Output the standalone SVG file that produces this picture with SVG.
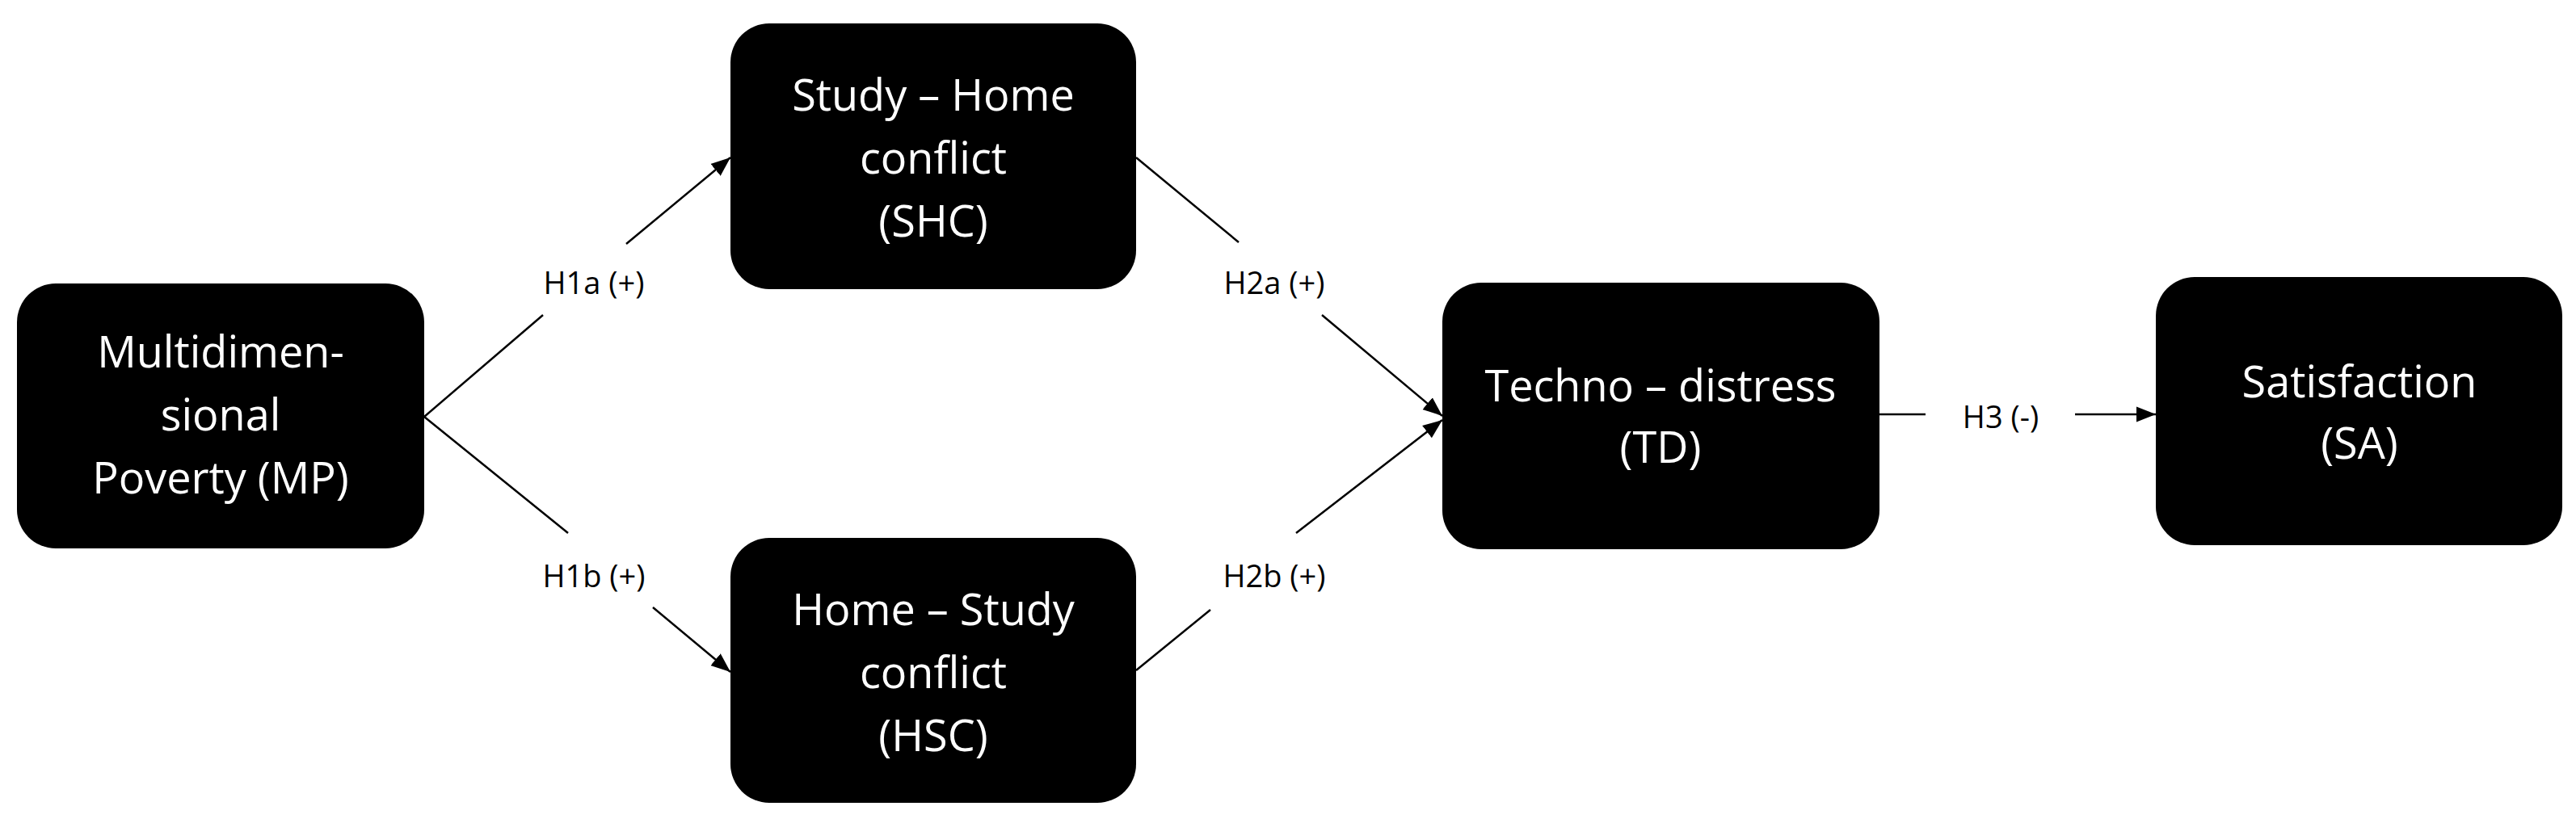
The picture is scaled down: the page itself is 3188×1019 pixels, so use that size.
<svg xmlns="http://www.w3.org/2000/svg" width="3188" height="1019" viewBox="0 0 3188 1019">
<style>
.n{fill:#000}
.t{fill:#fff;font-family:"Open Sans","Liberation Sans",sans-serif;font-size:54px;text-anchor:middle}
.l{fill:#000;font-family:"Open Sans","Liberation Sans",sans-serif;font-size:38px;text-anchor:middle}
.c{stroke:#000;stroke-width:2.5;fill:none}
</style>
<defs><marker id="a" viewBox="0 0 10 10" refX="10" refY="5" markerWidth="9" markerHeight="9" orient="auto" markerUnits="userSpaceOnUse"><path d="M0,0L10,5L0,10z" fill="#000"/></marker>
<marker id="b" viewBox="0 0 10 10" refX="10" refY="5" markerWidth="24" markerHeight="24" orient="auto" markerUnits="userSpaceOnUse"><path d="M0,1L10,5L0,9z" fill="#000"/></marker></defs>
<rect width="3188" height="1019" fill="#fff"/>
<g id="connectors">
<path class="c" d="M525,516L672,390M775,302L904,195" marker-end="url(#b)"/>
<path class="c" d="M525,516L703,660M808,752L904,832" marker-end="url(#b)"/>
<path class="c" d="M1406,195L1533,300M1636,390L1785,515" marker-end="url(#b)"/>
<path class="c" d="M1406,830L1498,755M1604,660L1785,520" marker-end="url(#b)"/>
<path class="c" d="M2326,513L2383,513M2568,513L2668,513" marker-end="url(#b)"/>
<text class="l" x="735" y="364">H1a (+)</text>
<text class="l" x="735" y="727">H1b (+)</text>
<text class="l" x="1577" y="364">H2a (+)</text>
<text class="l" x="1577" y="727">H2b (+)</text>
<text class="l" x="2476" y="530">H3 (-)</text>
</g>
<g id="MP"><rect class="n" x="21" y="351" width="504" height="328" rx="48"/>
<text class="t" x="273" y="455">Multidimen-</text><text class="t" x="273" y="533">sional</text><text class="t" x="273" y="611">Poverty (MP)</text></g>
<g id="SHC"><rect class="n" x="904" y="29" width="502" height="329" rx="48"/>
<text class="t" x="1155" y="137">Study – Home</text><text class="t" x="1155" y="215">conflict</text><text class="t" x="1155" y="293">(SHC)</text></g>
<g id="HSC"><rect class="n" x="904" y="666" width="502" height="328" rx="48"/>
<text class="t" x="1155" y="774">Home – Study</text><text class="t" x="1155" y="852">conflict</text><text class="t" x="1155" y="930">(HSC)</text></g>
<g id="TD"><rect class="n" x="1785" y="350" width="541" height="330" rx="48"/>
<text class="t" x="2055" y="497">Techno – distress</text><text class="t" x="2055" y="573">(TD)</text></g>
<g id="SA"><rect class="n" x="2668" y="343" width="503" height="332" rx="48"/>
<text class="t" x="2920" y="492">Satisfaction</text><text class="t" x="2920" y="568">(SA)</text></g>
</svg>
